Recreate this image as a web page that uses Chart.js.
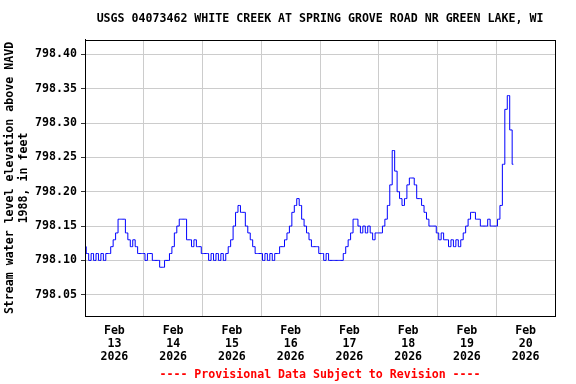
<!DOCTYPE html>
<html>
<head>
<meta charset="utf-8">
<script src="https://cdn.jsdelivr.net/npm/chart.js@4.4.1/dist/chart.umd.min.js"></script>
<style>
    html, body { margin: 0; padding: 0; background: #fff; }
    #wrap { width: 576px; height: 384px; }
</style>
</head>
<body>
<div id="wrap"><canvas id="chart" width="576" height="384"></canvas></div>
<script>
// 逐时水位 (ft)，每天 24 个值，从 Feb 13 00:00 开始
const feb13 = [798.12, 798.11, 798.10, 798.11, 798.10, 798.11, 798.10, 798.11, 798.10, 798.11, 798.11, 798.12,
               798.13, 798.14, 798.16, 798.16, 798.16, 798.14, 798.13, 798.12, 798.13, 798.12, 798.11, 798.11];
const feb14 = [798.11, 798.10, 798.11, 798.11, 798.10, 798.10, 798.10, 798.09, 798.09, 798.10, 798.10, 798.11,
               798.12, 798.14, 798.15, 798.16, 798.16, 798.16, 798.13, 798.13, 798.12, 798.13, 798.12, 798.12];
const feb15 = [798.11, 798.11, 798.11, 798.10, 798.11, 798.10, 798.11, 798.10, 798.11, 798.10, 798.11, 798.12,
               798.13, 798.15, 798.17, 798.18, 798.17, 798.17, 798.15, 798.14, 798.13, 798.12, 798.11, 798.11];
const feb16 = [798.11, 798.10, 798.11, 798.10, 798.11, 798.10, 798.11, 798.11, 798.12, 798.12, 798.13, 798.14,
               798.15, 798.17, 798.18, 798.19, 798.18, 798.16, 798.15, 798.14, 798.13, 798.12, 798.12, 798.12];
const feb17 = [798.11, 798.11, 798.10, 798.11, 798.10, 798.10, 798.10, 798.10, 798.10, 798.10, 798.11, 798.12,
               798.13, 798.14, 798.16, 798.16, 798.15, 798.14, 798.15, 798.14, 798.15, 798.14, 798.13, 798.14];
const feb18 = [798.14, 798.14, 798.15, 798.16, 798.18, 798.21, 798.26, 798.23, 798.20, 798.19, 798.18, 798.19,
               798.21, 798.22, 798.22, 798.21, 798.19, 798.19, 798.18, 798.17, 798.16, 798.15, 798.15, 798.15];
const feb19 = [798.14, 798.13, 798.14, 798.13, 798.13, 798.12, 798.13, 798.12, 798.13, 798.12, 798.13, 798.14,
               798.15, 798.16, 798.17, 798.17, 798.16, 798.16, 798.15, 798.15, 798.15, 798.16, 798.15, 798.15];
const feb20 = [798.15, 798.16, 798.18, 798.24, 798.32, 798.34, 798.29, 798.24];

const days = [feb13, feb14, feb15, feb16, feb17, feb18, feb19, feb20];
const dayLabels = [
    ['Feb', '13', '2026'], ['Feb', '14', '2026'], ['Feb', '15', '2026'], ['Feb', '16', '2026'],
    ['Feb', '17', '2026'], ['Feb', '18', '2026'], ['Feb', '19', '2026'], ['Feb', '20', '2026']
];
const yTicks = [798.05, 798.10, 798.15, 798.20, 798.25, 798.30, 798.35, 798.40];

// 每天 24 小时 -> x 轴用小时数
const points = [];
days.forEach((vals, d) => vals.forEach((v, h) => points.push({ x: d * 24 + h, y: v })));

// 午间放标签，零点画网格线
const xTicks = [];
dayLabels.forEach((lab, d) => {
    xTicks.push(d * 24 + 12);
    if (d < dayLabels.length - 1) xTicks.push((d + 1) * 24);
});

const monoFont = { family: '"DejaVu Sans Mono", monospace', size: 11.6, weight: 'bold', lineHeight: 1.12 };
const gridGray = '#cccccc';

// 外框
const framePlugin = {
    id: 'frame',
    afterDraw(chart) {
        const { ctx, chartArea: a } = chart;
        ctx.save();
        ctx.strokeStyle = '#000';
        ctx.lineWidth = 1;
        ctx.strokeRect(Math.round(a.left) + 0.5, Math.round(a.top) + 0.5,
                       Math.round(a.right - a.left), Math.round(a.bottom - a.top));
        ctx.restore();
    }
};

new Chart(document.getElementById('chart').getContext('2d'), {
    type: 'line',
    data: {
        datasets: [{
            data: points,
            borderColor: '#0000ff',
            borderWidth: 1,
            pointRadius: 0,
            stepped: 'middle',
            fill: false
        }]
    },
    options: {
        responsive: false,
        animation: false,
        devicePixelRatio: 1,
        layout: { padding: { left: 0, right: 21, top: 0, bottom: 0 } },
        plugins: {
            legend: { display: false },
            tooltip: { enabled: false },
            title: {
                display: true,
                fullSize: false,
                text: 'USGS 04073462 WHITE CREEK AT SPRING GROVE ROAD NR GREEN LAKE, WI',
                color: '#000',
                font: monoFont,
                padding: { top: 12, bottom: 15 }
            },
            subtitle: {
                display: true,
                fullSize: false,
                position: 'bottom',
                text: '---- Provisional Data Subject to Revision ----',
                color: '#ff0000',
                font: monoFont,
                padding: { top: 6, bottom: 3 }
            }
        },
        scales: {
            x: {
                type: 'linear',
                min: 0,
                max: 192,
                afterBuildTicks: (scale) => { scale.ticks = xTicks.map(v => ({ value: v })); },
                afterFit: (scale) => { scale.height = 46; },
                grid: {
                    color: (ctx) => (ctx.tick && ctx.tick.value % 24 === 0) ? gridGray : 'rgba(0,0,0,0)',
                    drawTicks: false
                },
                border: { color: '#000' },
                ticks: {
                    autoSkip: false,
                    maxRotation: 0,
                    padding: 8,
                    color: '#000',
                    font: monoFont,
                    callback: (v) => (v % 24 === 12) ? dayLabels[(v - 12) / 24] : ''
                }
            },
            y: {
                min: 798.019,
                max: 798.421,
                afterBuildTicks: (scale) => { scale.ticks = yTicks.map(v => ({ value: v })); },
                afterFit: (scale) => { scale.width = 85; },
                grid: { color: gridGray, tickColor: '#333', tickLength: 4 },
                border: { color: '#000' },
                ticks: {
                    padding: 4,
                    color: '#000',
                    font: monoFont,
                    callback: (v) => v.toFixed(2)
                },
                title: {
                    display: true,
                    text: ['Stream water level elevation above NAVD', '1988, in feet'],
                    color: '#000',
                    font: { ...monoFont, lineHeight: 1.2 },
                    padding: { top: 3, bottom: 0 }
                }
            }
        }
    },
    plugins: [framePlugin]
});
</script>
</body>
</html>
